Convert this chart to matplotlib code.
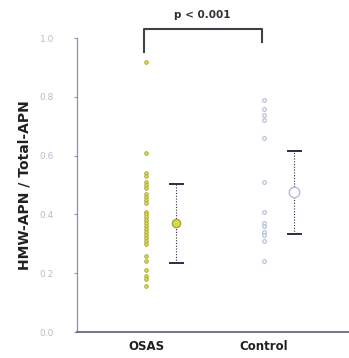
import numpy as np
import matplotlib.pyplot as plt

groups = ['OSAS', 'Control']
osas = [0.92, 0.61, 0.54, 0.53, 0.51, 0.50, 0.49, 0.47, 0.46, 0.45, 0.44,
        0.41, 0.40, 0.39, 0.38, 0.37, 0.36, 0.35, 0.34, 0.33, 0.32, 0.31,
        0.30, 0.26, 0.24, 0.21, 0.19, 0.18, 0.155]
control = [0.79, 0.76, 0.74, 0.72, 0.66, 0.51, 0.41, 0.37, 0.36, 0.34,
           0.33, 0.31, 0.24]
means = [0.37, 0.475]
sds = [0.135, 0.14]
yticks = [0.0, 0.2, 0.4, 0.6, 0.8, 1.0]
p_text = 'p < 0.001'

fig = plt.figure(figsize=(3.49, 3.58), dpi=100)
ax = fig.add_axes([0.2206, 0.0726, 0.7794, 0.821])

spine_c = '#8a90b0'
osas_fc = '#d8d850'
osas_ec = '#a8a838'
ctrl_ec = '#b4bad6'
bar_c = '#2c2c48'

ax.scatter(np.zeros(len(osas)), osas, s=7, facecolor=osas_fc,
           edgecolor=osas_ec, linewidth=0.6, zorder=3)
ax.scatter(np.ones(len(control)), control, s=7, facecolor='white',
           edgecolor=ctrl_ec, linewidth=0.8, zorder=3)

off = 0.255
for i, (m, s) in enumerate(zip(means, sds)):
    xe = i + off
    ax.plot([xe, xe], [m - s, m + s], color=bar_c, lw=0.8, ls=(0, (1, 1.5)))
    for yy in (m - s, m + s):
        ax.plot([xe - 0.055, xe + 0.055], [yy, yy], color=bar_c, lw=1.4)
ax.plot(0 + off, means[0], 'o', ms=6, mfc=osas_fc, mec=osas_ec, mew=1, zorder=4)
ax.plot(1 + off, means[1], 'o', ms=7.5, mfc='white', mec=ctrl_ec, mew=1, zorder=4)

# significance bracket
bc = '#404048'
ax.plot([-0.02, -0.02, 0.98, 0.98], [0.952, 1.03, 1.03, 0.986],
        color=bc, lw=1.5, clip_on=False)
ax.text(0.48, 1.08, p_text, ha='center', va='center', fontsize=7.5,
        fontweight='bold', color='#303038', clip_on=False)

ax.set_xlim(-0.585, 1.72)
ax.set_ylim(0, 1.0)
ax.set_xticks([0, 1])
ax.set_xticklabels(groups, fontsize=8.5, fontweight='bold', color='#202020')
ax.tick_params(axis='x', length=0, pad=6)
ax.set_yticks(yticks)
ax.set_yticklabels(['%.1f' % t for t in yticks], fontsize=6.5, color='#b8bccc')
ax.tick_params(axis='y', length=2.5, width=0.8, color=spine_c, pad=14)
ax.set_ylabel('HMW-APN / Total-APN', fontsize=10, fontweight='bold',
              color='#202020', labelpad=6)

for sp in ['top', 'right']:
    ax.spines[sp].set_visible(False)
ax.spines['left'].set_color(spine_c)
ax.spines['bottom'].set_color('#707488')
ax.spines['bottom'].set_linewidth(1.4)
ax.spines['left'].set_linewidth(0.9)

fig.savefig('out.png', dpi=100)
